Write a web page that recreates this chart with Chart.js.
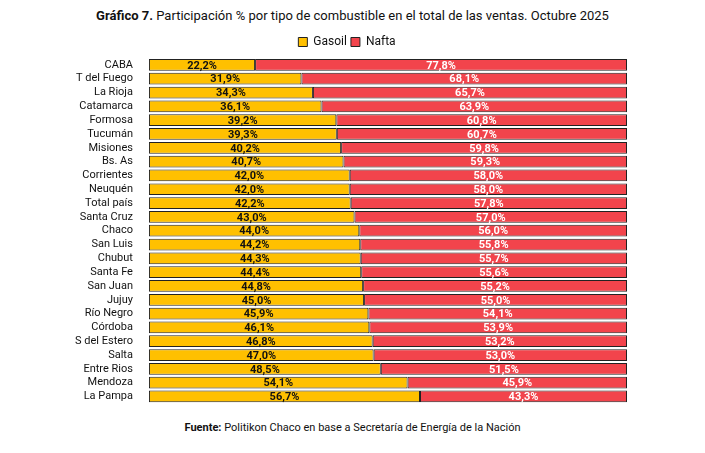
<!DOCTYPE html>
<html><head><meta charset="utf-8">
<script src="https://cdn.jsdelivr.net/npm/chart.js@4"></script>
<style>
body{margin:0;background:#fff;font-family:Roboto,sans-serif}
#wrap{position:relative;width:705px;height:453px}
#title{position:absolute;top:8px;left:0;width:705px;text-align:center;font-size:13px;color:#111}
#src{position:absolute;top:421px;left:0;width:705px;text-align:center;font-size:11px;color:#111}
#box{position:absolute;left:0;top:32px;width:705px;height:386px}
</style></head><body>
<div id="wrap">
<div id="title"><b>Gráfico 7.</b> Participación % por tipo de combustible en el total de las ventas. Octubre 2025</div>
<div id="box"><canvas id="c"></canvas></div>
<div id="src"><b>Fuente:</b> Politikon Chaco en base a Secretaría de Energía de la Nación</div>
</div>
<script>
const provincias = ['CABA','T del Fuego','La Rioja','Catamarca','Formosa','Tucumán','Misiones','Bs. As','Corrientes','Neuquén','Total país','Santa Cruz','Chaco','San Luis','Chubut','Santa Fe','San Juan','Jujuy','Río Negro','Córdoba','S del Estero','Salta','Entre Rios','Mendoza','La Pampa'];
const gasoil = [22.2,31.9,34.3,36.1,39.2,39.3,40.2,40.7,42.0,42.0,42.2,43.0,44.0,44.2,44.3,44.4,44.8,45.0,45.9,46.1,46.8,47.0,48.5,54.1,56.7];
const nafta = [77.8,68.1,65.7,63.9,60.8,60.7,59.8,59.3,58.0,58.0,57.8,57.0,56.0,55.8,55.7,55.6,55.2,55.0,54.1,53.9,53.2,53.0,51.5,45.9,43.3];

const fmt = v => v.toFixed(1).replace('.', ',') + '%';

const labelPlugin = {
    id: 'labels',
    afterDatasetsDraw(chart) {
        const ctx = chart.ctx;
        ctx.save();
        ctx.font = 'bold 11px Roboto';
        ctx.textAlign = 'center';
        ctx.textBaseline = 'middle';
        chart.data.datasets.forEach((ds, i) => {
            chart.getDatasetMeta(i).data.forEach((bar, j) => {
                const p = bar.getProps(['x', 'y', 'base']);
                ctx.fillStyle = i === 0 ? '#111' : '#fff';
                ctx.fillText(fmt(ds.data[j]), (p.x + p.base) / 2, p.y + 1);
            });
        });
        ctx.restore();
    }
};

new Chart(document.getElementById('c'), {
    type: 'bar',
    data: {
        labels: provincias,
        datasets: [
            {label: 'Gasoil', data: gasoil, backgroundColor: '#FFC000', borderColor: '#222', borderWidth: 1, borderSkipped: false, categoryPercentage: 1, barPercentage: 0.85},
            {label: 'Nafta', data: nafta, backgroundColor: '#F2444C', borderColor: '#222', borderWidth: 1, borderSkipped: false, categoryPercentage: 1, barPercentage: 0.85}
        ]
    },
    options: {
        indexAxis: 'y',
        responsive: true,
        maintainAspectRatio: false,
        animation: false,
        layout: {padding: {left: 67, right: 78, top: 0, bottom: 0}},
        plugins: {
            legend: {
                display: true,
                labels: {boxWidth: 9, boxHeight: 9, padding: 4, color: '#111', font: {size: 12, family: 'Roboto'}}
            },
            tooltip: {enabled: false}
        },
        scales: {
            x: {stacked: true, min: 0, max: 100, display: false},
            y: {
                stacked: true,
                grid: {display: false},
                border: {display: false},
                ticks: {color: '#111', font: {size: 11, family: 'Roboto'}, padding: 8, autoSkip: false}
            }
        }
    },
    plugins: [labelPlugin]
});
</script>
</body></html>
